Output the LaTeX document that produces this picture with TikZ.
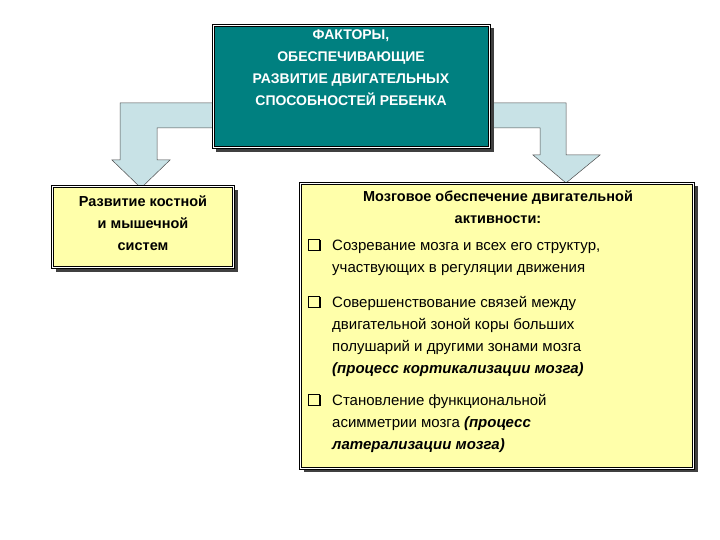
\documentclass[tikz,border=0pt]{standalone}
\usepackage{fontspec}
\setmainfont{Liberation Sans}
\usetikzlibrary{positioning}
\definecolor{teal1}{RGB}{0,128,128}
\definecolor{yel}{RGB}{255,255,170}
\definecolor{arr}{RGB}{200,226,230}
\newcommand{\qbx}{{\setlength{\fboxsep}{0pt}\setlength{\fboxrule}{1pt}\fbox{\rule{0pt}{10pt}\hspace{10pt}}\hspace{-1pt}\rule[-1pt]{1.5pt}{11pt}}}
\tikzset{x=1pt,y=-1pt,
 boxx/.style={draw=black,line width=1.2pt,double=white,double distance=0.8pt},
 shad/.style={fill=black!75},
 bul/.style={font=\fontsize{15}{22}\selectfont,align=left,anchor=north west,inner sep=0},
 arrowshape/.style={fill=arr,draw=black!70,line width=0.5pt,line join=miter}}
\begin{document}
\begin{tikzpicture}
\useasboundingbox (0,0) rectangle (720,540);
% arrows
\draw[arrowshape] (214,103) -- (120,103) -- (120,160) -- (112,160) -- (141,188) -- (170,160) -- (157,160) -- (157,128) -- (214,128) -- cycle;
\draw[arrowshape] (489,103) -- (566,103) -- (566,155) -- (600,155) -- (566,183) -- (533,155) -- (540,155) -- (540,128) -- (489,128) -- cycle;
% top box
\fill[shad] (216,28) rectangle (494,152);
\node[boxx,fill=teal1,minimum width=276,minimum height=122,anchor=north west,inner sep=0] (top) at (213,25) {};
\node[text=white,font=\bfseries\fontsize{14}{22}\selectfont,align=center,anchor=north,inner sep=0] (toptext) at (351,30) {ФАКТОРЫ,\\ОБЕСПЕЧИВАЮЩИЕ\\РАЗВИТИЕ ДВИГАТЕЛЬНЫХ\\СПОСОБНОСТЕЙ РЕБЕНКА};
% left box
\fill[shad] (56,190) rectangle (238,272);
\node[boxx,fill=yel,minimum width=181,minimum height=81,anchor=north west,inner sep=0] (left) at (52,186) {};
\node[font=\bfseries\fontsize{14.5}{22}\selectfont,align=center,anchor=north,inner sep=0] (lefttext) at (143,196) {Развитие костной\\и мышечной\\систем};
% right box
\fill[shad] (304,186) rectangle (698,472);
\node[boxx,fill=yel,minimum width=393,minimum height=285,anchor=north west,inner sep=0] (right) at (300,183) {};
\node[font=\bfseries\fontsize{14.5}{22}\selectfont,align=center,anchor=north,inner sep=0] (rh) at (498,191) {Мозговое обеспечение двигательной\\активности:};
\node[bul] (b1) at (308,239) {\makebox[24pt][l]{\qbx}Созревание мозга и всех его структур,\\\hspace*{24pt}участвующих в регуляции движения};
\node[bul] (b2) at (308,296) {\makebox[24pt][l]{\qbx}Совершенствование связей между\\\hspace*{24pt}двигательной зоной коры больших\\\hspace*{24pt}полушарий и другими зонами мозга\\\hspace*{24pt}\textbf{\itshape (процесс кортикализации мозга)}};
\node[bul] (b3) at (308,394) {\makebox[24pt][l]{\qbx}Становление функциональной\\\hspace*{24pt}асимметрии мозга \textbf{\itshape (процесс}\\\hspace*{24pt}\textbf{\itshape латерализации мозга)}};
\end{tikzpicture}
\end{document}
